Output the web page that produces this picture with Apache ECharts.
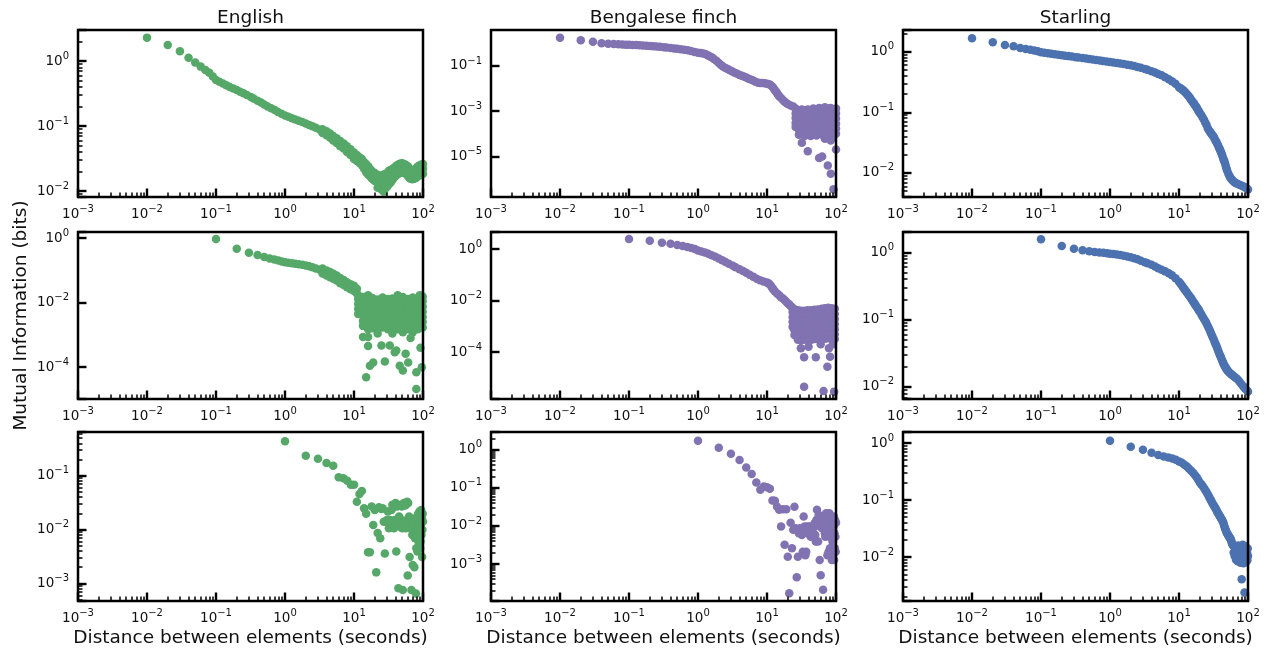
<!DOCTYPE html>
<html>
<head>
<meta charset="utf-8">
<title>Mutual information vs distance</title>
<script src="https://cdn.jsdelivr.net/npm/echarts@6.0.0/dist/echarts.min.js"></script>
<style>
  html, body { margin: 0; padding: 0; background: #fff; }
  #main { width: 1271px; height: 653px; }
</style>
</head>
<body>
<div id="main"></div>
<script>
// values: [distance (s), mutual information (bits)]
// column tables are [distance, [values at that distance]]

const englishTop = [
  [0.01, 2.29], [0.02, 1.76], [0.03, 1.41], [0.04, 1.12], [0.05, 0.95], [0.06, 0.82], [0.07, 0.73],
  [0.08, 0.66], [0.09, 0.58], [0.1, 0.51], [0.112, 0.48], [0.126, 0.45], [0.141, 0.425], [0.158, 0.4],
  [0.178, 0.378], [0.2, 0.357], [0.224, 0.337], [0.25, 0.318], [0.28, 0.3], [0.32, 0.28], [0.35, 0.265],
  [0.4, 0.245], [0.45, 0.23], [0.5, 0.215], [0.56, 0.2], [0.63, 0.188], [0.71, 0.176], [0.79, 0.165],
  [0.89, 0.155], [1, 0.145], [1.12, 0.139], [1.26, 0.132], [1.41, 0.126], [1.58, 0.121], [1.78, 0.115],
  [2, 0.109], [2.24, 0.104], [2.5, 0.099], [2.8, 0.094], [3.2, 0.088]
];
const englishTopBand = [
  [3.5, [0.089, 0.078]], [4, [0.083, 0.072]], [4.5, [0.077, 0.066]], [5, [0.07, 0.06]],
  [5.6, [0.065, 0.055]], [6.3, [0.059, 0.049]], [7.1, [0.054, 0.045]], [7.9, [0.049, 0.04]],
  [8.9, [0.044, 0.036]], [10, [0.039, 0.031]],
  [11, [0.036, 0.029]], [12, [0.033, 0.027]], [13, [0.031, 0.025]], [14, [0.028, 0.022]],
  [15, [0.026, 0.0195]], [16, [0.024, 0.018]], [17, [0.022, 0.017]], [18, [0.0205, 0.0158]],
  [19, [0.0195, 0.015]], [20, [0.019, 0.0143]],
  [22, [0.0178, 0.0142, 0.0112]], [25, [0.0172, 0.0135, 0.0106]], [27, [0.018, 0.0125, 0.0098]],
  [28, [0.0178, 0.0138, 0.0108]], [30, [0.019, 0.0145, 0.0115]], [32, [0.0205, 0.016, 0.0127]],
  [34, [0.021, 0.017, 0.0135]], [36, [0.0218, 0.0178, 0.0148]], [38, [0.0228, 0.0185, 0.016]],
  [40, [0.0237, 0.02, 0.017]], [42, [0.025, 0.021, 0.018]], [45, [0.026, 0.022, 0.0187]],
  [48, [0.0265, 0.0225, 0.0192]], [50, [0.0267, 0.023, 0.0196]], [53, [0.026, 0.022, 0.019]],
  [56, [0.0254, 0.0218, 0.0187]], [60, [0.024, 0.02, 0.0172]], [63, [0.0226, 0.019, 0.016]],
  [66, [0.021, 0.0175, 0.0155]], [70, [0.0205, 0.0175, 0.0152]], [75, [0.021, 0.018, 0.0155]],
  [80, [0.0226, 0.019, 0.016]], [85, [0.024, 0.02, 0.017]], [90, [0.025, 0.021, 0.0175]],
  [95, [0.0255, 0.0215, 0.018]], [100, [0.026, 0.022, 0.0185]]
];

const finchTop = [
  [0.01, 1.77], [0.02, 1.36], [0.03, 1.17], [0.04, 1.0], [0.05, 0.96], [0.06, 0.93], [0.07, 0.91],
  [0.08, 0.89], [0.09, 0.875], [0.1, 0.865], [0.112, 0.855], [0.126, 0.84], [0.141, 0.825], [0.158, 0.8],
  [0.178, 0.785], [0.2, 0.765], [0.224, 0.745], [0.25, 0.72], [0.28, 0.7], [0.32, 0.675], [0.35, 0.655],
  [0.4, 0.625], [0.45, 0.6], [0.5, 0.58], [0.56, 0.55], [0.63, 0.52], [0.71, 0.49], [0.79, 0.455],
  [0.89, 0.42], [1, 0.386], [1.1, 0.37], [1.2, 0.355], [1.3, 0.33],
  [1.4, 0.29], [1.5, 0.26], [1.6, 0.235], [1.7, 0.205], [1.85, 0.17], [2, 0.135], [2.15, 0.11],
  [2.3, 0.095], [2.5, 0.082], [2.7, 0.073], [2.9, 0.065], [3.15, 0.057], [3.4, 0.05], [3.7, 0.045],
  [4, 0.04], [4.3, 0.037], [4.6, 0.034], [5, 0.031], [5.4, 0.0275], [5.8, 0.025], [6.3, 0.0225],
  [6.8, 0.02], [7.4, 0.0182], [8, 0.0177], [8.6, 0.0175], [9.3, 0.017], [10, 0.0165], [10.7, 0.0155],
  [11.3, 0.0145], [12, 0.012], [12.5, 0.01], [13, 0.0085], [13.5, 0.0074], [14, 0.0062], [14.5, 0.0053],
  [15, 0.0046], [16, 0.0038], [17, 0.0031], [18, 0.0026], [19, 0.0023], [20, 0.0021], [22, 0.0018],
  [24, 0.0016]
];
const finchTopBlock = [
  [26, [1.3e-3, 8e-4, 5e-4, 3e-4, 2e-4]],
  [29, [1.1e-3, 7e-4, 4.2e-4, 2.5e-4, 1.5e-4, 9e-5]],
  [32, [1.2e-3, 7.5e-4, 4.5e-4, 2.7e-4, 1.6e-4, 1e-4, 4e-5]],
  [35, [1.1e-3, 6.5e-4, 4e-4, 2.4e-4, 1.4e-4, 8e-5]],
  [39, [1.2e-3, 7e-4, 4.2e-4, 2.5e-4, 1.5e-4, 9e-5, 1.7e-5]],
  [43, [1.0e-3, 6e-4, 3.6e-4, 2.2e-4, 1.3e-4, 8e-5]],
  [47, [1.3e-3, 8e-4, 4.8e-4, 2.9e-4, 1.7e-4, 1.0e-4]],
  [52, [1.1e-3, 6.5e-4, 4e-4, 2.4e-4, 1.4e-4, 8.5e-5]],
  [57, [1.4e-3, 8.5e-4, 5e-4, 3e-4, 1.8e-4, 1.1e-4, 8.5e-6]],
  [63, [1.2e-3, 7e-4, 4.2e-4, 2.5e-4, 1.5e-4, 9e-5, 1e-5]],
  [69, [1.5e-3, 9e-4, 5.5e-4, 3.3e-4, 2e-4, 1.2e-4, 6e-5]],
  [76, [1.3e-3, 7.5e-4, 4.5e-4, 2.7e-4, 1.6e-4, 9e-5, 4e-6]],
  [84, [1.4e-3, 8.5e-4, 5e-4, 3e-4, 1.8e-4, 1e-4, 5e-5, 1.7e-6]],
  [92, [1.2e-3, 7e-4, 4e-4, 2.4e-4, 1.4e-4, 8e-5, 3.5e-7]],
  [100, [1.3e-3, 8e-4, 4.8e-4, 2.8e-4, 1.7e-4, 1e-4, 2e-5]]
];

const starlingTop = [
  [0.01, 1.66], [0.02, 1.43], [0.03, 1.29], [0.04, 1.23], [0.05, 1.15], [0.06, 1.11], [0.07, 1.08],
  [0.08, 1.05], [0.09, 1.02], [0.1, 0.977], [0.112, 0.958], [0.126, 0.94], [0.141, 0.925], [0.158, 0.91],
  [0.178, 0.892], [0.2, 0.875], [0.224, 0.86], [0.25, 0.845], [0.28, 0.83], [0.32, 0.812], [0.35, 0.8],
  [0.4, 0.785], [0.45, 0.772], [0.5, 0.76], [0.56, 0.746], [0.63, 0.73], [0.71, 0.715], [0.79, 0.702],
  [0.89, 0.69], [1, 0.677], [1.12, 0.665], [1.26, 0.653], [1.41, 0.64], [1.58, 0.625], [1.78, 0.61],
  [2, 0.597], [2.24, 0.58], [2.5, 0.56], [2.8, 0.545], [3.2, 0.52], [3.5, 0.505], [4, 0.475],
  [4.5, 0.453], [5, 0.43], [5.6, 0.408], [6.3, 0.38], [7.1, 0.352], [7.9, 0.325], [8.9, 0.295],
  [10, 0.26], [10.5, 0.25], [11, 0.24], [11.5, 0.23], [12, 0.22], [12.5, 0.21], [13, 0.2], [13.5, 0.19],
  [14, 0.18], [14.5, 0.17], [15, 0.16], [15.5, 0.153], [16, 0.145], [16.5, 0.139], [17, 0.132],
  [17.5, 0.126], [18, 0.12], [18.5, 0.113], [19, 0.107], [19.5, 0.102], [20, 0.097], [21, 0.09],
  [22, 0.082], [23, 0.075], [24, 0.068], [25, 0.062], [26, 0.055], [27, 0.051], [28, 0.048], [29, 0.045],
  [30, 0.043], [31, 0.041], [32, 0.039], [33, 0.036], [34, 0.034], [35, 0.032], [36, 0.03], [37, 0.028],
  [38, 0.026], [39, 0.0245], [40, 0.023], [41, 0.0215], [42, 0.02], [43, 0.0185], [44, 0.017],
  [45, 0.016], [46, 0.015], [47, 0.0137], [48, 0.0125], [49, 0.0116], [50, 0.0108], [52, 0.0097],
  [54, 0.0088], [56, 0.0082], [58, 0.0078], [60, 0.0075], [63, 0.0071], [66, 0.0068], [70, 0.0066],
  [75, 0.0064], [80, 0.0062], [85, 0.006], [90, 0.0058], [95, 0.0056], [100, 0.0053]
];

const englishMid = [
  [0.1, 0.93], [0.2, 0.464], [0.3, 0.348], [0.4, 0.3], [0.5, 0.26], [0.6, 0.232], [0.7, 0.215],
  [0.8, 0.2], [0.9, 0.187], [1, 0.179], [1.12, 0.173], [1.26, 0.167], [1.41, 0.161], [1.58, 0.155],
  [1.78, 0.148], [2, 0.14], [2.24, 0.133], [2.5, 0.124], [2.8, 0.114], [3.2, 0.105]
];
const englishMidBand = [
  [3.5, [0.113, 0.08]], [4, [0.099, 0.069]], [4.5, [0.088, 0.061]], [5, [0.079, 0.055]],
  [5.6, [0.069, 0.048]], [6.3, [0.058, 0.04]], [7.1, [0.05, 0.035]], [7.9, [0.043, 0.03]],
  [8.9, [0.037, 0.026]], [10, [0.033, 0.0228]], [11, [0.027, 0.019]]
];
const englishMidBlock = [
  [11.5, [0.017, 0.0129, 0.009, 0.0063, 0.0044]],
  [13.5, [0.015, 0.0115, 0.008, 0.0056, 0.0039, 0.0027, 0.0019]],
  [16, [0.017, 0.0125, 0.0088, 0.0062, 0.0043, 0.003, 0.0021, 0.0015]],
  [18.5, [0.014, 0.0098, 0.0068, 0.0048, 0.0033, 0.0023, 0.0016]],
  [22, [0.0125, 0.0088, 0.0062, 0.0043, 0.003, 0.0021, 0.0015, 0.0011]],
  [26, [0.0145, 0.01, 0.007, 0.0049, 0.0034, 0.0024, 0.0017]],
  [31, [0.013, 0.0092, 0.0064, 0.0045, 0.0031, 0.0022, 0.0015]],
  [36, [0.0135, 0.0095, 0.0066, 0.0046, 0.0032, 0.0023, 0.0016, 0.0011]],
  [43, [0.017, 0.0125, 0.0088, 0.0062, 0.0043, 0.003, 0.0021, 0.0015]],
  [51, [0.015, 0.0105, 0.0073, 0.0051, 0.0036, 0.0025, 0.0017, 0.0012]],
  [60, [0.013, 0.0092, 0.0064, 0.0045, 0.0031, 0.0022, 0.0015]],
  [71, [0.0145, 0.01, 0.007, 0.0049, 0.0034, 0.0024, 0.0017, 0.0012]],
  [84, [0.0135, 0.0095, 0.0066, 0.0046, 0.0032, 0.0022, 0.0015]],
  [90, [0.017, 0.0125]],
  [99, [0.0155, 0.011, 0.0075, 0.0052, 0.0036, 0.0025, 0.0017]]
];
const englishMidStray = [
  [13.5, 8.6e-4], [15, 4.9e-5], [16, 4.5e-4], [16, 8.6e-4], [17, 1.1e-4], [19, 1.4e-4], [25, 4.7e-4],
  [28, 1.5e-4], [33, 4.7e-4], [39, 2.9e-4], [41, 3.3e-4], [46, 1.1e-4], [51, 7.9e-5], [56, 2.6e-4],
  [61, 1.4e-4], [66, 8e-4], [80, 7e-5], [80, 2.1e-5], [92, 4e-4], [96, 1e-4]
];

const finchMid = [
  [0.1, 2.45], [0.2, 2.1], [0.3, 1.76], [0.4, 1.61], [0.5, 1.43], [0.6, 1.31], [0.7, 1.2], [0.8, 1.1],
  [0.9, 1.0], [1, 0.88], [1.12, 0.81], [1.26, 0.73], [1.41, 0.655], [1.58, 0.575], [1.78, 0.5],
  [2, 0.43], [2.24, 0.37], [2.5, 0.315], [2.8, 0.27], [3.2, 0.225], [3.5, 0.195], [4, 0.165],
  [4.5, 0.14], [5, 0.12], [5.6, 0.1], [6.3, 0.085], [7.1, 0.071], [7.9, 0.062], [8.9, 0.055],
  [10, 0.05], [10.5, 0.047], [11, 0.042], [11.5, 0.036], [12, 0.03],
  [12.5, 0.026], [13, 0.0224], [14, 0.019], [15, 0.016], [16, 0.0135], [17, 0.012], [18, 0.0105],
  [19, 0.009], [20, 0.0079], [21, 0.007], [22, 0.0062], [23, 0.0055]
];
const finchMidBlock = [
  [23.5, [3.6e-3, 2.3e-3, 1.5e-3, 9.5e-4]],
  [25, [4.6e-3, 2.9e-3, 1.8e-3, 1.1e-3, 7e-4, 4.6e-4]],
  [28, [4.2e-3, 2.7e-3, 1.7e-3, 1.1e-3, 7e-4, 4.4e-4, 3e-4]],
  [31, [4e-3, 2.6e-3, 1.65e-3, 1.05e-3, 6.7e-4, 4.2e-4, 2.8e-4]],
  [35, [4e-3, 2.6e-3, 1.65e-3, 1.05e-3, 6.7e-4, 4.3e-4, 3e-4]],
  [39, [4.2e-3, 2.7e-3, 1.7e-3, 1.1e-3, 7e-4, 4.5e-4, 3e-4]],
  [44, [4.2e-3, 2.7e-3, 1.7e-3, 1.1e-3, 7e-4, 4.5e-4, 3e-4]],
  [49, [4.4e-3, 2.8e-3, 1.8e-3, 1.15e-3, 7.3e-4, 4.7e-4, 3.2e-4]],
  [55, [4.5e-3, 2.9e-3, 1.85e-3, 1.2e-3, 7.5e-4, 4.8e-4, 3.2e-4]],
  [62, [4.8e-3, 3e-3, 1.9e-3, 1.2e-3, 7.7e-4, 5e-4, 3.3e-4]],
  [69, [5e-3, 3.2e-3, 2e-3, 1.25e-3, 8e-4, 5e-4, 3.3e-4]],
  [77, [5.2e-3, 3.3e-3, 2.1e-3, 1.3e-3, 8.3e-4, 5.2e-4, 3.4e-4]],
  [86, [5e-3, 3.2e-3, 2e-3, 1.25e-3, 8e-4, 5e-4, 3.3e-4]],
  [96, [4.8e-3, 3e-3, 1.9e-3, 1.2e-3, 7.7e-4, 4.9e-4, 3.2e-4]]
];
const finchMidStray = [
  [31, 1.4e-4], [34.5, 6.3e-5], [40, 1.6e-4], [51, 6.3e-5], [60, 2e-4], [79, 1.4e-4], [82, 6.5e-5],
  [75, 2.7e-5], [90, 2e-4], [34.5, 4.5e-6], [66, 3.1e-6], [94, 2.9e-6]
];

const starlingMid = [
  [0.1, 1.56], [0.2, 1.24], [0.3, 1.13], [0.4, 1.07], [0.5, 1.035], [0.6, 1.01], [0.7, 0.995],
  [0.8, 0.987], [0.9, 0.97], [1, 0.953], [1.12, 0.94], [1.26, 0.925], [1.41, 0.91], [1.58, 0.89],
  [1.78, 0.865], [2, 0.84], [2.24, 0.815], [2.5, 0.785], [2.8, 0.75], [3.2, 0.71], [3.5, 0.685],
  [4, 0.65], [4.5, 0.612], [5, 0.578], [5.6, 0.55], [6.3, 0.52], [7.1, 0.487], [7.9, 0.455],
  [8.9, 0.41], [10, 0.365], [10.5, 0.342], [11, 0.32], [11.5, 0.3], [12, 0.283], [12.5, 0.268],
  [13, 0.253], [13.5, 0.24], [14, 0.228], [14.5, 0.217], [15, 0.207], [15.5, 0.196], [16, 0.186],
  [16.5, 0.177], [17, 0.169], [17.5, 0.162], [18, 0.155], [18.5, 0.148], [19, 0.142], [19.5, 0.136],
  [20, 0.131], [21, 0.12], [22, 0.11], [23, 0.102], [24, 0.095], [25, 0.088], [26, 0.081], [27, 0.075],
  [28, 0.0686], [29, 0.063], [30, 0.058], [31, 0.054], [32, 0.05], [33, 0.046], [34, 0.043], [35, 0.04],
  [36, 0.037], [37, 0.0345], [38, 0.032], [39, 0.03], [40, 0.0283], [41, 0.0266], [42, 0.025],
  [43, 0.0236], [44, 0.0222], [45, 0.0213], [46, 0.0204], [47, 0.0196], [48, 0.0189], [49, 0.0183],
  [50, 0.0177], [52, 0.0169], [54, 0.0162], [56, 0.0156], [58, 0.0152], [60, 0.0148], [63, 0.0143],
  [66, 0.0137], [70, 0.0131], [75, 0.012], [80, 0.011], [85, 0.0102], [90, 0.0095], [95, 0.009],
  [100, 0.0085]
];

const englishLow = [
  [1, 0.436], [2, 0.236], [3, 0.207], [4, 0.172], [5, 0.153], [6, 0.094], [7, 0.09], [8, 0.081],
  [9, 0.068], [10, 0.068], [11, 0.033], [12, 0.046], [13, 0.052], [14, 0.025], [15, 0.0196],
  [16, 0.0038], [17, 0.0038], [18, 0.0268], [19, 0.0122], [20, 0.0232], [21, 0.0016], [22, 0.0086],
  [23, 0.026], [24, 0.0069], [25, 0.024], [26, 0.025], [27, 0.014], [28, 0.0036], [29, 0.0141],
  [30, 0.0151], [31, 0.0216], [32, 0.0106], [33, 0.0151], [34, 0.0141], [35, 0.0232], [36, 0.0288],
  [37, 0.0268], [38, 0.0106], [39, 0.015], [40, 0.031], [41, 0.0039], [42, 0.0268], [43, 0.0141],
  [44, 8.1e-4], [45, 0.0175], [46, 0.0163], [47, 0.0288], [48, 0.011], [49, 0.0268], [50, 0.0106],
  [51, 7.5e-4], [52, 0.0122], [53, 0.031], [54, 0.0141], [55, 0.028], [56, 0.0106], [57, 0.0288],
  [58, 0.0151], [59, 0.033], [60, 0.0014], [61, 0.031], [62, 0.0122], [63, 0.0175], [64, 0.0031],
  [65, 0.0114], [66, 0.0163], [67, 0.0151], [68, 7.5e-4], [69, 0.0099], [70, 0.0079], [71, 0.0022],
  [72, 0.0131], [73, 0.0141], [74, 0.0099], [75, 0.002], [76, 0.0122], [77, 0.0069], [78, 0.0069],
  [79, 6.5e-4], [80, 0.0045], [81, 0.0151], [82, 0.0175], [83, 0.0039], [84, 0.0099], [85, 0.0196],
  [86, 0.0086], [87, 0.0056], [88, 0.0114], [89, 0.0216], [90, 0.0141], [91, 0.0045], [92, 0.006],
  [93, 0.0122], [94, 0.0232], [95, 0.0079], [96, 0.0163], [97, 0.0031], [98, 0.0099], [99, 0.0196],
  [100, 0.0141]
];

const finchLow = [
  [1, 1.73], [2, 1.13], [3, 0.785], [4, 0.535], [5, 0.343], [6, 0.229], [7, 0.138], [8, 0.0886],
  [9, 0.108], [10, 0.104], [11, 0.094], [12, 0.0465], [13, 0.046], [14, 0.032], [15, 0.0264],
  [16, 0.0096], [17, 0.0275], [18, 0.0032], [19, 0.0275], [20, 0.00156], [21, 1.7e-4], [22, 0.0122],
  [23, 0.0026], [24, 0.0079], [25, 0.032], [26, 0.0087], [27, 4.5e-4], [28, 0.00156], [29, 0.0064],
  [30, 0.0087], [31, 0.0079], [32, 0.0058], [33, 0.0021], [34, 0.0176], [35, 0.0096], [36, 0.0017],
  [37, 0.0021], [38, 0.0096], [39, 0.0064], [40, 0.0087], [41, 0.0096], [42, 0.0058], [43, 0.0052],
  [44, 0.0096], [45, 0.0058], [46, 0.0087], [47, 0.0064], [48, 0.0096], [49, 0.0118], [50, 0.0058],
  [51, 0.0039], [52, 0.0144], [53, 0.0264], [54, 0.0122], [55, 0.0039], [56, 0.0195], [57, 0.0144],
  [58, 0.00127], [59, 0.0096], [60, 5.1e-4], [61, 0.0118], [62, 0.0144], [63, 0.0087], [64, 0.0176],
  [65, 2.1e-4], [66, 0.0122], [67, 0.0096], [68, 0.0118], [69, 0.0064], [70, 0.0052], [71, 0.0118],
  [72, 0.0216], [73, 0.0087], [74, 0.0064], [75, 0.0017], [76, 0.0144], [77, 0.0058], [78, 0.0021],
  [79, 0.0096], [80, 0.0216], [81, 0.0052], [82, 0.0026], [83, 0.0017], [84, 0.0118], [85, 0.0064],
  [86, 0.0144], [87, 0.00127], [88, 0.0079], [89, 0.0039], [90, 0.0017], [91, 0.0058], [92, 0.0096],
  [93, 0.0176], [94, 0.00127], [95, 0.0064], [96, 0.0026], [97, 0.0144], [98, 0.0052], [99, 0.0021],
  [100, 0.0122]
];

const starlingLow = [
  [1, 1.1], [2, 0.86], [3, 0.763], [4, 0.676], [5, 0.616], [6, 0.582], [7, 0.56], [8, 0.537],
  [9, 0.51], [10, 0.476], [11, 0.45], [12, 0.415], [13, 0.386], [14, 0.355], [15, 0.325], [16, 0.3],
  [17, 0.275], [18, 0.252], [19, 0.228], [20, 0.203], [21, 0.19], [22, 0.176], [23, 0.163], [24, 0.15],
  [25, 0.138], [26, 0.128], [27, 0.117], [28, 0.108], [29, 0.099], [30, 0.092], [31, 0.085], [32, 0.08],
  [33, 0.075], [34, 0.071], [35, 0.066], [36, 0.062], [37, 0.058], [38, 0.055], [39, 0.052], [40, 0.05],
  [41, 0.047], [42, 0.045], [43, 0.042], [44, 0.04], [45, 0.036], [46, 0.033], [47, 0.031], [48, 0.029],
  [49, 0.027], [50, 0.026], [51, 0.025], [52, 0.024], [53, 0.023], [54, 0.022], [55, 0.0215], [56, 0.021],
  [57, 0.0195], [58, 0.018], [59, 0.017], [60, 0.0165], [61, 0.016], [62, 0.012], [63, 0.0155],
  [64, 0.0105], [65, 0.015], [66, 0.0125], [67, 0.009], [68, 0.0145], [69, 0.011], [70, 0.0135],
  [71, 0.0085], [72, 0.016], [73, 0.0115], [74, 0.0095], [75, 0.014], [76, 0.0105], [77, 0.0125],
  [78, 0.008], [79, 0.015], [80, 0.0112], [81, 0.0041], [82, 0.0135], [83, 0.0095], [84, 0.0165],
  [85, 0.0118], [86, 0.0078], [87, 0.0145], [88, 0.0102], [89, 0.0024], [90, 0.013], [91, 0.0092],
  [92, 0.0155], [93, 0.011], [94, 0.0082], [95, 0.0138], [96, 0.0098], [97, 0.012], [98, 0.0088],
  [99, 0.0142], [100, 0.0105]
];

const titles = ['English', 'Bengalese finch', 'Starling'];
const xTitle = 'Distance between elements (seconds)';
const yTitle = 'Mutual Information (bits)';

function columns(table) {
  return table.flatMap(([x, ys]) => ys.map(y => [x, y]));
}

const GREEN = '#55a868', PURPLE = '#8172b2', BLUE = '#4c72b0';
const FONT = 'DejaVu Sans';
const TEXT = '#111';

const panels = [
  { data: englishTop.concat(columns(englishTopBand)), color: GREEN, ymin: 0.0081, ymax: 3.0, minor: true },
  { data: finchTop.concat(columns(finchTopBlock)), color: PURPLE, ymin: 1.6e-7, ymax: 3.9, ticks: [1e-5, 1e-3, 1e-1] },
  { data: starlingTop, color: BLUE, ymin: 0.004, ymax: 2.28, minor: true },
  { data: englishMid.concat(columns(englishMidBand), columns(englishMidBlock), englishMidStray), color: GREEN, ymin: 1.03e-5, ymax: 1.54, base: 100 },
  { data: finchMid.concat(columns(finchMidBlock), finchMidStray), color: PURPLE, ymin: 1.5e-6, ymax: 4.6, base: 100 },
  { data: starlingMid, color: BLUE, ymin: 0.0066, ymax: 2.0, minor: true },
  { data: englishLow, color: GREEN, ymin: 4.7e-4, ymax: 0.65, minor: true },
  { data: finchLow, color: PURPLE, ymin: 1.07e-4, ymax: 2.92, minor: true },
  { data: starlingLow, color: BLUE, ymin: 0.0017, ymax: 1.56, minor: true }
];

const colLeft = [78, 491, 903];
const rowTop = [30, 232, 432];
const rowHeight = [167, 167, 169];
const plotWidth = 345;

// "10" with a raised exponent, only on exact powers of ten
function powerLabel(v) {
  const e = Math.log10(v);
  if (Math.abs(e - Math.round(e)) > 1e-6) return '';
  const n = Math.round(e);
  return '{b|10}{s|' + (n < 0 ? '\u2212' + (-n) : String(n)) + '}';
}
const labelRich = {
  b: { fontSize: 13.5, lineHeight: 20, color: TEXT, fontFamily: FONT },
  s: { fontSize: 10, lineHeight: 10, verticalAlign: 'top', color: TEXT, fontFamily: FONT }
};

let dom = document.getElementById('main');
let myChart = echarts.init(dom, null, { renderer: 'canvas' });

const grid = [], xAxis = [], yAxis = [], series = [];
panels.forEach((p, i) => {
  const row = Math.floor(i / 3), col = i % 3;
  grid.push({
    left: colLeft[col], top: rowTop[row], width: plotWidth, height: rowHeight[row],
    show: true, borderColor: '#000', borderWidth: 2.5, backgroundColor: 'transparent',
    containLabel: false, outerBoundsMode: 'none', z: 5
  });
  xAxis.push({
    type: 'log', gridIndex: i, min: 1e-3, max: 100, logBase: 10, z: 6,
    axisLine: { show: false },
    axisTick: { inside: true, length: 8.5, lineStyle: { color: '#000', width: 2.4 } },
    minorTick: { show: true, splitNumber: 9, length: 4.5, lineStyle: { color: '#000', width: 1.5 } },
    splitLine: { show: false }, minorSplitLine: { show: false },
    axisLabel: { formatter: powerLabel, rich: labelRich, margin: 7, showMinLabel: true, showMaxLabel: true },
    name: row === 2 ? xTitle : '', nameLocation: 'middle', nameGap: 28,
    nameTextStyle: { fontSize: 18.5, color: TEXT, fontFamily: FONT }
  });
  yAxis.push({
    type: 'log', gridIndex: i, min: p.ymin, max: p.ymax, logBase: p.base || 10, z: 6,
    axisLine: { show: false },
    axisTick: { inside: true, length: 8.5, lineStyle: { color: '#000', width: 2.4 }, customValues: p.ticks },
    minorTick: { show: !!p.minor, splitNumber: 9, length: 4.5, lineStyle: { color: '#000', width: 1.5 } },
    splitLine: { show: false }, minorSplitLine: { show: false },
    axisLabel: { formatter: powerLabel, rich: labelRich, margin: 9, customValues: p.ticks },
    name: i === 3 ? yTitle : '', nameLocation: 'middle', nameGap: 47,
    nameTextStyle: { fontSize: 18.5, color: TEXT, fontFamily: FONT }
  });
  series.push({
    type: 'scatter', xAxisIndex: i, yAxisIndex: i, data: p.data,
    symbol: 'circle', symbolSize: 8.5, silent: true,
    itemStyle: { color: p.color, opacity: 1 }
  });
});

let option = {
  backgroundColor: '#fff',
  animation: false,
  title: titles.map((t, c) => ({
    text: t, left: colLeft[c] + plotWidth / 2, top: 9, textAlign: 'center', padding: 0,
    textStyle: { fontSize: 18.5, fontWeight: 'normal', color: TEXT, fontFamily: FONT }
  })),
  grid: grid,
  xAxis: xAxis,
  yAxis: yAxis,
  series: series
};

if (option && typeof option === 'object') {
  myChart.setOption(option);
}

window.addEventListener('resize', myChart.resize);
</script>
</body>
</html>
